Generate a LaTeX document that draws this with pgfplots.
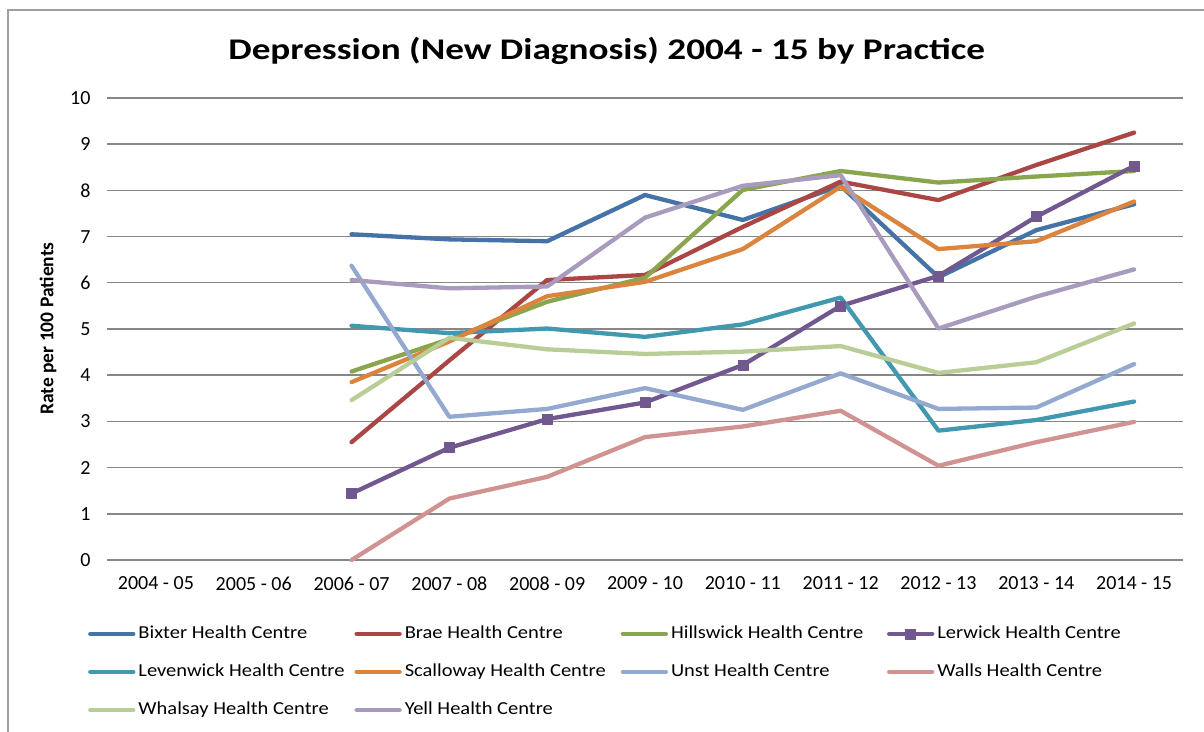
\documentclass[border=0pt]{standalone}
\usepackage{fontspec}
\setmainfont{Carlito}
\newfontfamily\titlefont[FakeStretch=1.24]{Carlito}
\newfontfamily\legfont[FakeStretch=1.12]{Carlito}
\usepackage{pgfplots}
\usepackage{pgfplotstable}
\pgfplotsset{compat=1.18}
\newcommand{\lgbox}[1]{\makebox[213pt][l]{#1}}

\definecolor{cBixter}{HTML}{4572A7}
\definecolor{cBrae}{HTML}{AA4643}
\definecolor{cHills}{HTML}{89A54E}
\definecolor{cLerwick}{HTML}{71588F}
\definecolor{cLeven}{HTML}{4198AF}
\definecolor{cScall}{HTML}{DB843D}
\definecolor{cUnst}{HTML}{93A9CF}
\definecolor{cWalls}{HTML}{D19392}
\definecolor{cWhals}{HTML}{B9CD96}
\definecolor{cYell}{HTML}{A99BBD}
\definecolor{gridgray}{HTML}{878787}

\pgfplotstableread{
idx Bixter Brae Hillswick Lerwick Levenwick Scalloway Unst Walls Whalsay Yell
2  7.05 2.55 4.08 1.44 5.07 3.85 6.37 0.00 3.46 6.06
3  6.94 4.32 4.78 2.43 4.91 4.73 3.10 1.33 4.81 5.88
4  6.90 6.06 5.59 3.05 5.01 5.71 3.27 1.80 4.56 5.92
5  7.90 6.17 6.11 3.41 4.83 6.02 3.72 2.66 4.46 7.41
6  7.36 7.21 8.01 4.22 5.10 6.73 3.25 2.89 4.51 8.10
7  8.10 8.19 8.42 5.50 5.68 8.08 4.04 3.23 4.63 8.33
8  6.12 7.79 8.17 6.15 2.80 6.73 3.27 2.04 4.05 5.01
9  7.14 8.55 8.30 7.43 3.03 6.90 3.30 2.55 4.28 5.70
10 7.70 9.25 8.42 8.53 3.43 7.76 4.24 2.99 5.12 6.29
}\datatable

\begin{document}
\begin{tikzpicture}
\useasboundingbox (0,0) rectangle (1204pt,731pt);
\draw[gray!75, line width=1.2pt] (8pt,-5pt) -- (8pt,721pt) -- (1210pt,721pt);
\begin{axis}[
  at={(107pt,171pt)}, anchor=south west,
  scale only axis, width=1076pt, height=462pt,
  xmin=-0.5, xmax=10.5, ymin=0, ymax=10,
  clip=false,
  axis line style={draw=none},
  major tick length=0pt,
  xtick={0,...,10},
  xticklabels={2004 - 05,2005 - 06,2006 - 07,2007 - 08,2008 - 09,2009 - 10,2010 - 11,2011 - 12,2012 - 13,2013 - 14,2014 - 15},
  ytick={0,...,10},
  ymajorgrids,
  grid style={gridgray, line width=1.4pt},
  tick label style={font=\fontsize{20}{24}\selectfont},
  /pgf/number format/assume math mode=true,
  xticklabel style={yshift=-13pt},
  yticklabel style={xshift=-13pt},
  every axis plot/.append style={line width=4.3pt, line cap=round, line join=round},
  legend columns=4,
  legend cell align=left,
  legend style={at={(axis description cs:-0.0177,-0.141)}, anchor=north west, draw=none, fill=none,
    inner sep=0pt, row sep=21pt, column sep=0pt,
    nodes={inner xsep=3pt, inner ysep=0pt, text height=13pt, text depth=4pt, font=\legfont\fontsize{18.3}{22}\selectfont}},
  legend image code/.code={\draw[mark repeat=2,mark phase=2,#1] plot coordinates {(0pt,0pt) (21.5pt,0pt) (43pt,0pt)};},
]
\addplot[cBixter] table[x=idx,y=Bixter] {\datatable};
\addlegendentry{\lgbox{Bixter Health Centre}}
\addplot[cBrae] table[x=idx,y=Brae] {\datatable};
\addlegendentry{\lgbox{Brae Health Centre}}
\addplot[cHills] table[x=idx,y=Hillswick] {\datatable};
\addlegendentry{\lgbox{Hillswick Health Centre}}
\addplot[cLerwick, mark=square*, mark size=5pt, mark options={fill=cLerwick, line width=0.5pt}] table[x=idx,y=Lerwick] {\datatable};
\addlegendentry{\lgbox{Lerwick Health Centre}}
\addplot[cLeven] table[x=idx,y=Levenwick] {\datatable};
\addlegendentry{\lgbox{Levenwick Health Centre}}
\addplot[cScall] table[x=idx,y=Scalloway] {\datatable};
\addlegendentry{\lgbox{Scalloway Health Centre}}
\addplot[cUnst] table[x=idx,y=Unst] {\datatable};
\addlegendentry{\lgbox{Unst Health Centre}}
\addplot[cWalls] table[x=idx,y=Walls] {\datatable};
\addlegendentry{\lgbox{Walls Health Centre}}
\addplot[cWhals] table[x=idx,y=Whalsay] {\datatable};
\addlegendentry{\lgbox{Whalsay Health Centre}}
\addplot[cYell] table[x=idx,y=Yell] {\datatable};
\addlegendentry{\lgbox{Yell Health Centre}}
\end{axis}
\node[anchor=base, font=\titlefont\fontsize{30}{36}\selectfont\bfseries] at (606.7pt,671pt) {Depression (New Diagnosis) 2004 - 15 by Practice};
\node[rotate=90, anchor=center, inner sep=0pt, font=\fontsize{19.5}{22}\selectfont\bfseries] at (48pt,402.5pt) {Rate per 100 Patients};
\end{tikzpicture}
\end{document}
